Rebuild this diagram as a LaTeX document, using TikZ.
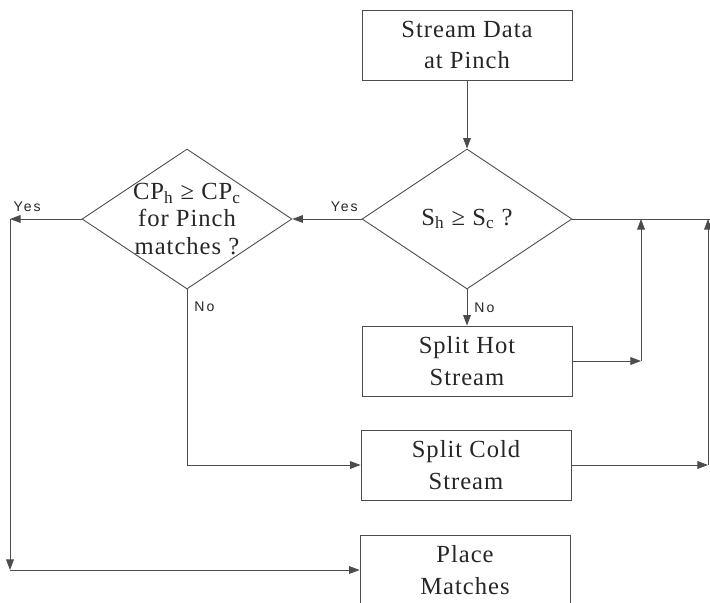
\documentclass[tikz,border=0pt]{standalone}
\usepackage{fontspec}
\setmainfont[LetterSpace=4]{Liberation Serif}
\newfontfamily\yesnofont[LetterSpace=14]{Liberation Sans}
\usetikzlibrary{shapes.geometric,arrows.meta}

\tikzset{
  stepbox/.style={draw=black!70, line width=0.5pt, minimum width=4.2cm, minimum height=1.4cm,
    align=center, font=\fontsize{14}{18}\selectfont, text=black!85},
  decision/.style={draw=black!70, line width=0.5pt, shape=diamond, minimum width=4.2cm,
    minimum height=2.8cm, inner sep=0pt},
  qtext/.style={align=center, font=\fontsize{14}{15.5}\selectfont, text=black!85},
  flow/.style={draw=black!70, line width=0.5pt, -{Triangle[length=6pt,width=4.4pt]}},
  link/.style={draw=black!70, line width=0.5pt},
  yesno/.style={font=\yesnofont\fontsize{8}{9}\selectfont, text=black!85, inner sep=1pt},
}

\begin{document}
\begin{tikzpicture}[x=0.02cm,y=-0.02cm] % pinch design flowchart
        \useasboundingbox (0,0) rectangle (710,602);
        \node[stepbox] (data) at (467,45) {Stream Data\\at Pinch};
        \node[decision] (pinchtest) at (467,219) {};
        \node[qtext] (pinchtxt) at (pinchtest) {S\textsubscript{h} ≥ S\textsubscript{c} ?};
        \node[decision] (cptest) at (187,219) {};
        \node[qtext] (cptxt) at (cptest) {CP\textsubscript{h} ≥ CP\textsubscript{c}\\for Pinch\\matches ?};
        \node[stepbox] (splithot) at (467,361) {Split Hot\\Stream};
        \node[stepbox] (splitcold) at (466,465) {Split Cold\\Stream};
        \node[stepbox] (place) at (465,570) {Place\\Matches};
        \coordinate (yesturn) at (10,219);
        \coordinate (yesdown) at (10,570);
        \coordinate (noturn) at (187,465);
        \coordinate (hotturn) at (641,361);
        \coordinate (hotjoin) at (641,219);
        \coordinate (coldturn) at (708,465);
        \coordinate (coldjoin) at (708,219);
        \coordinate (pinchout) at (712,219);
        % yes branches
        \draw[flow] (data) -- (pinchtest);
        \draw[flow] (pinchtest.west) -- (cptest.east) node[yesno, pos=0.25, above=3pt] {Yes};
        \draw[flow] (cptest.west) -- (yesturn) node[yesno, pos=0.76, above=3pt] {Yes};
        \draw[flow] (yesturn) -- (yesdown);
        \draw[flow] (yesdown) -- (place.west);
        % no branches
        \draw[link] (cptest.south) -- (noturn) node[yesno, pos=0.1, right=3pt] {No};
        \draw[flow] (noturn) -- (splitcold.west);
        \draw[flow] (pinchtest.south) -- (splithot.north) node[yesno, midway, right=3pt] {No};
        % loops back
        \draw[flow] (splithot.east) -- (hotturn);
        \draw[flow] (hotturn) -- (hotjoin);
        \draw[link] (pinchtest.east) -- (pinchout);
        \draw[flow] (splitcold.east) -- (coldturn);
        \draw[flow] (coldturn) -- (coldjoin);
    \end{tikzpicture}
\end{document}
